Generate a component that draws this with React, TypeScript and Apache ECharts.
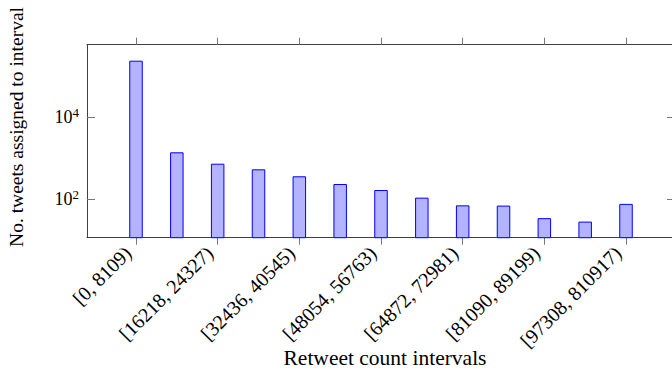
import React, { useEffect, useRef } from "react";
import * as echarts from "echarts";

const categories = [
  "[0, 8109)",
  "[8109, 16218)",
  "[16218, 24327)",
  "[24327, 32436)",
  "[32436, 40545)",
  "[40545, 48654)",
  "[48054, 56763)",
  "[56763, 64872)",
  "[64872, 72981)",
  "[72981, 81090)",
  "[81090, 89199)",
  "[89199, 97308)",
  "[97308, 810917)",
];
const tweetCounts = [243000, 1390, 731, 533, 360, 233, 166, 108, 70, 69, 34, 28, 76];
const xTickIndices = [0, 2, 4, 6, 8, 10, 12];
const yTickExponents = [2, 4];
const xTitle = "Retweet count intervals";
const yTitle = "No. tweets assigned to interval";

const X_MIN = -1.2;
const X_MAX = 13.2;
const Y_MIN_EXP = 1.053;
const Y_MAX_EXP = 5.777;
// label axis is shifted so that rotated labels end just left of their tick
const LABEL_SHIFT = 0.2;

const FONT = "Liberation Serif";
const FRAME = "#404040";
const TICK = "#777777";

export default function App() {
  const ref = useRef<HTMLDivElement>(null);
  useEffect(() => {
    if (!ref.current) return;
    const chart = echarts.init(ref.current, null, { renderer: "svg" });
    const axisLine = { show: true, onZero: false, lineStyle: { color: FRAME, width: 1 } };
    const yAxisBase = {
      type: "value",
      min: Y_MIN_EXP,
      max: Y_MAX_EXP,
      splitLine: { show: false },
      axisLine,
      axisTick: {
        show: true,
        inside: true,
        length: 8,
        customValues: yTickExponents,
        lineStyle: { color: TICK, width: 1 },
      },
    };
    chart.setOption({
      animation: false,
      backgroundColor: "#ffffff",
      textStyle: { fontFamily: FONT },
      grid: {
        left: 87,
        top: 44.7,
        width: 588,
        height: 193,
        containLabel: false,
        outerBoundsMode: "none",
      },
      xAxis: [
        {
          type: "value",
          position: "bottom",
          min: X_MIN + LABEL_SHIFT,
          max: X_MAX + LABEL_SHIFT,
          splitLine: { show: false },
          axisLine,
          axisTick: {
            show: true,
            inside: false,
            length: 7,
            customValues: xTickIndices.map((v) => v + LABEL_SHIFT),
            lineStyle: { color: TICK, width: 1 },
          },
          axisLabel: {
            show: true,
            customValues: xTickIndices,
            rotate: 45,
            margin: 12,
            color: "#000",
            fontFamily: FONT,
            fontSize: 20,
            formatter: (v: number) => categories[Math.round(v)] ?? "",
          },
        },
        {
          type: "value",
          position: "top",
          min: X_MIN,
          max: X_MAX,
          splitLine: { show: false },
          axisLine,
          axisTick: {
            show: true,
            inside: false,
            length: 7,
            customValues: xTickIndices,
            lineStyle: { color: TICK, width: 1 },
          },
          axisLabel: { show: false },
        },
      ],
      yAxis: [
        {
          ...yAxisBase,
          position: "left",
          axisLabel: {
            show: true,
            customValues: yTickExponents,
            margin: 8,
            color: "#000",
            fontFamily: FONT,
            formatter: (v: number) => `{b|10}{s|${Math.round(v)}}`,
            rich: {
              b: { fontFamily: FONT, fontSize: 18, color: "#000", lineHeight: 22 },
              s: { fontFamily: FONT, fontSize: 13, color: "#000", verticalAlign: "top", lineHeight: 14 },
            },
          },
        },
        {
          ...yAxisBase,
          position: "right",
          axisLabel: { show: false },
        },
      ],
      series: [
        {
          type: "bar",
          xAxisIndex: 1,
          yAxisIndex: 0,
          barWidth: 13.5,
          clip: true,
          data: tweetCounts.map((c, i) => [i, Math.log10(c)]),
          itemStyle: { color: "#b3b3ff", borderColor: "#0000ff", borderWidth: 1 },
        },
      ],
      graphic: [
        {
          type: "text",
          x: 385,
          y: 358,
          style: {
            text: xTitle,
            fontFamily: FONT,
            fontSize: 21.5,
            fill: "#000",
            align: "center",
            verticalAlign: "middle",
          },
        },
        {
          type: "text",
          x: 16.5,
          y: 127,
          rotation: Math.PI / 2,
          style: {
            text: yTitle,
            fontFamily: FONT,
            fontSize: 19.5,
            fill: "#000",
            align: "center",
            verticalAlign: "middle",
          },
        },
      ],
    });
    return () => chart.dispose();
  }, []);
  return (
    <div
      ref={ref}
      style={{ position: "fixed", left: 0, top: 0, width: 672, height: 370, background: "#fff" }}
    />
  );
}
